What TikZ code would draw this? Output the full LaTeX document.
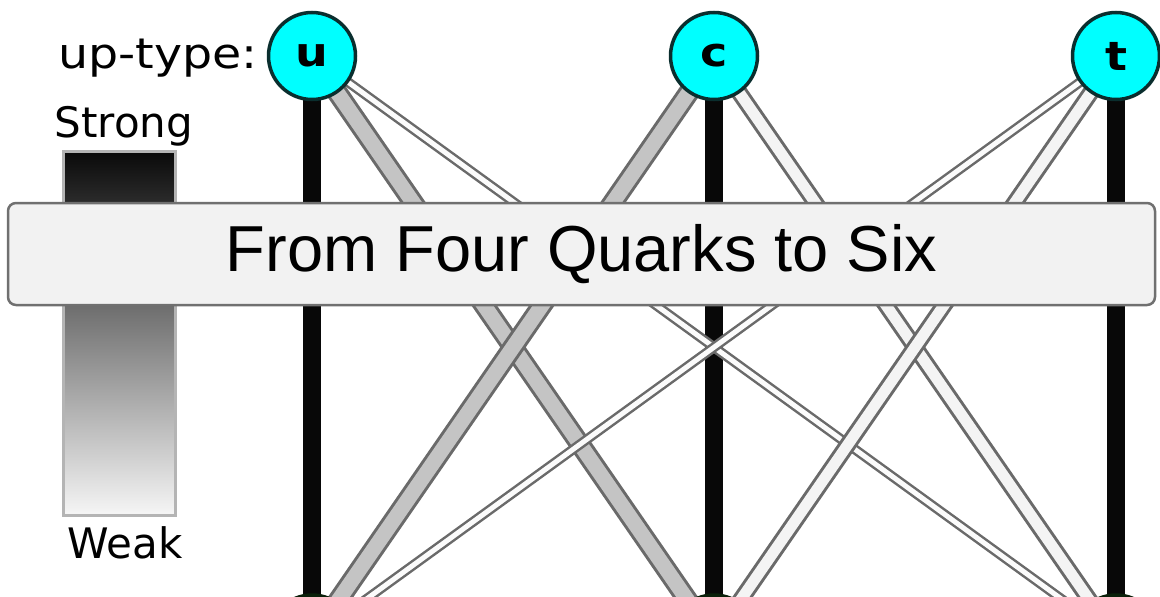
\documentclass[tikz,border=0pt]{standalone}
\usepackage{fontspec}
\newfontfamily\labfont{DejaVu Sans}
\newfontfamily\quarkfont{DejaVu Sans Bold}
\newfontfamily\banfont{Liberation Sans}
\pgfdeclarelayer{bg}
\pgfsetlayers{bg,main}
\definecolor{strongc}{HTML}{080808}
\definecolor{edgec}{HTML}{6A6A6A}
\definecolor{medc}{HTML}{C4C4C4}
\definecolor{lightc}{HTML}{F4F4F4}
\definecolor{faintc}{HTML}{FBFBFB}
\definecolor{uprim}{HTML}{0A2E2E}
\definecolor{upfill}{HTML}{00FFFF}
\definecolor{dnrim}{HTML}{0A200A}
\definecolor{dnfill}{HTML}{007800}
\definecolor{banfill}{HTML}{F2F2F2}
\definecolor{banedge}{HTML}{707070}
\definecolor{legtop}{HTML}{0A0A0A}
\definecolor{legbot}{HTML}{F6F6F6}
\definecolor{legedge}{HTML}{B4B4B4}
\tikzset{
  upq/.style={circle, draw=uprim, fill=upfill, line width=3.5pt, minimum size=87pt, inner sep=0pt,
    font=\quarkfont\fontsize{40}{42}\selectfont},
  dnq/.style={circle, draw=dnrim, fill=dnfill, line width=3.5pt, minimum size=87pt, inner sep=0pt},
  strongl/.style={draw=strongc, line width=17.5pt},
  medl/.style={draw=edgec, line width=3pt, double=medc, double distance=15pt},
  lightl/.style={draw=edgec, line width=3pt, double=lightc, double distance=11pt},
  faintl/.style={draw=edgec, line width=2.5pt, double=faintc, double distance=5pt},
  lab/.style={font=\labfont\fontsize{42}{48}\selectfont, inner sep=0pt},
  banner/.style={draw=banedge, fill=banfill, line width=2.5pt, rounded corners=8pt,
    font=\banfont\fontsize{65}{70}\selectfont},
}
\begin{document}
\begin{tikzpicture}[x=1pt,y=-1pt]
\useasboundingbox (0,0) rectangle (1160,597);
\clip (0,0) rectangle (1160,597);
% quark nodes
\node[upq] (u) at (312,56) {\scalebox{1.15}[1]{u}};
\node[upq] (c) at (714,56) {\scalebox{1.15}[1]{c}};
\node[upq] (t) at (1116,56) {\scalebox{1.15}[1]{t}};
\node[dnq] (d) at (312,638.5) {};
\node[dnq] (s) at (714,638.5) {};
\node[dnq] (b) at (1116,638.5) {};
% couplings
\begin{pgfonlayer}{bg}
  \draw[strongl] (u.center) -- (d.center);
  \draw[strongl] (c.center) -- (s.center);
  \draw[strongl] (t.center) -- (b.center);
  \draw[medl] (u.center) -- (s.center);
  \draw[faintl] (u.center) -- (b.center);
  \draw[medl] (c.center) -- (d.center);
  \draw[lightl] (c.center) -- (b.center);
  \draw[faintl] (t.center) -- (d.center);
  \draw[lightl] (t.center) -- (s.center);
\end{pgfonlayer}
% legend
\node[lab, anchor=base east] (uplab) at (258,68) {\scalebox{1.13}[1]{up-type:}};
\node[lab, anchor=base] (strong) at (124,137) {Strong};
\node[lab, anchor=base] (weak) at (125,558) {Weak};
\shade[top color=legtop, bottom color=legbot] (63.5,151.5) rectangle (175.5,515.5);
\draw[legedge, line width=3pt] (63.5,151.5) rectangle (175.5,515.5);
% banner
\node[banner, minimum width=1147pt, minimum height=102pt, inner sep=0pt] (title) at (581.5,254) {From Four Quarks to Six};
\end{tikzpicture}
\end{document}
